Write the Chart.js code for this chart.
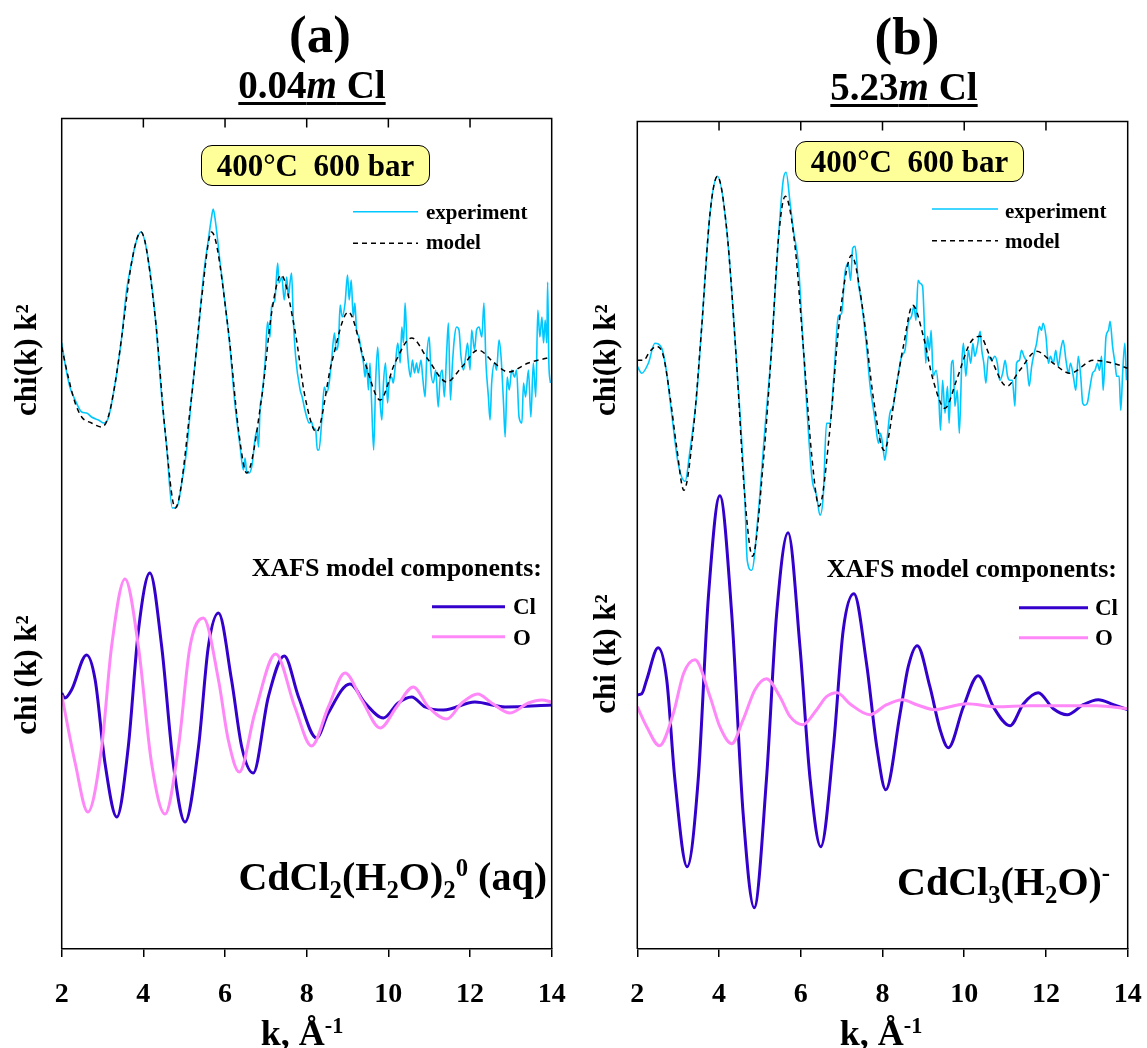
<!DOCTYPE html>
<html>
<head>
<meta charset="utf-8">
<script src="https://cdn.jsdelivr.net/npm/chart.js@4.4.1/dist/chart.umd.min.js"></script>
<style>
body { margin: 0; background: #fff; }
#wrap { position: relative; width: 1147px; height: 1048px; overflow: hidden;
        font-family: "Liberation Serif", "Times New Roman", serif; font-weight: bold; color: #000; }
canvas { position: absolute; top: 0; }
.t { position: absolute; white-space: pre; line-height: 1; }
.c { transform: translateX(-50%); }
.r { text-align: right; }
.sub { font-size: 0.62em; position: relative; top: 0.32em; line-height: 0; }
.sup { font-size: 0.62em; position: relative; top: -0.55em; line-height: 0; }
.ul { text-decoration: underline; text-decoration-thickness: 3px; text-underline-offset: 4px; }
.box { position: absolute; box-sizing: border-box; background: #ffff99; border: 1.5px solid #000;
       border-radius: 11px; display: flex; align-items: center; justify-content: center;
       font-size: 31px; white-space: pre; }
.yt { position: absolute; white-space: pre; line-height: 1; font-size: 31px;
      transform: translate(-50%, -50%) rotate(-90deg); }
</style>
</head>
<body>
<div id="wrap">
  <canvas id="chartA" width="574" height="1048" style="left:0"></canvas>
  <canvas id="chartB" width="573" height="1048" style="left:574px"></canvas>

  <div class="t c" style="left:320px;top:8px;font-size:53px">(a)</div>
  <div class="t c ul" style="left:312px;top:65px;font-size:39px">0.04<i>m</i> Cl</div>
  <div class="t c" style="left:907px;top:10px;font-size:53px">(b)</div>
  <div class="t c ul" style="left:904px;top:67px;font-size:39px">5.23<i>m</i> Cl</div>

  <div class="box" style="left:201px;top:145px;width:229px;height:41px">400°C  600 bar</div>
  <div class="box" style="left:795px;top:141px;width:229px;height:41px">400°C  600 bar</div>

  <div class="t" style="left:426px;top:202px;font-size:21px">experiment</div>
  <div class="t" style="left:426px;top:232px;font-size:21px">model</div>
  <div class="t" style="left:1005px;top:201px;font-size:21px">experiment</div>
  <div class="t" style="left:1005px;top:231px;font-size:21px">model</div>

  <div class="t r" style="right:605px;top:555px;font-size:26px">XAFS model components:</div>
  <div class="t r" style="right:30px;top:556px;font-size:26px">XAFS model components:</div>
  <div class="t" style="left:513px;top:595px;font-size:23px">Cl</div>
  <div class="t" style="left:513px;top:626px;font-size:23px">O</div>
  <div class="t" style="left:1095px;top:596px;font-size:23px">Cl</div>
  <div class="t" style="left:1095px;top:626px;font-size:23px">O</div>

  <div class="t r" style="right:600px;top:857px;font-size:40px">CdCl<span class="sub">2</span>(H<span class="sub">2</span>O)<span class="sub">2</span><span class="sup">0</span> (aq)</div>
  <div class="t" style="left:897px;top:862px;font-size:40px">CdCl<span class="sub">3</span>(H<span class="sub">2</span>O)<span class="sup">-</span></div>

  <div class="yt" style="left:25px;top:360px">chi(k) k²</div>
  <div class="yt" style="left:25px;top:675px">chi (k) k²</div>
  <div class="yt" style="left:604px;top:360px">chi(k) k²</div>
  <div class="yt" style="left:604px;top:654px">chi (k) k²</div>

  <div class="t c" style="left:302px;top:1015px;font-size:36px">k, Å<span class="sup">-1</span></div>
  <div class="t c" style="left:881px;top:1015px;font-size:36px">k, Å<span class="sup">-1</span></div>
</div>

<script>
// x axis
const kTicks = [2, 4, 6, 8, 10, 12, 14];
const kTickLabels = ['2', '4', '6', '8', '10', '12', '14'];

// (a) 0.04m Cl : top curves, chi(k)k^2 (arbitrary units)
const kExpA = [2.00,2.08,2.20,2.33,2.49,2.61,2.73,2.90,3.04,3.14,3.31,3.47,3.59,3.71,3.80,3.94,4.08,4.29,4.45,4.57,
  4.71,4.82,4.94,5.06,5.18,5.35,5.47,5.59,5.66,5.71,5.77,5.88,6.00,6.12,6.24,6.37,6.45,6.49,6.53,6.59,
  6.67,6.73,6.78,6.82,6.86,6.90,6.98,
  7.04,7.10,7.14,7.22,7.29,7.32,7.39,7.45,7.51,7.55,7.59,7.63,7.67,7.73,7.84,7.89,7.94,8.00,8.06,8.12,
  8.16,8.22,8.26,8.30,8.37,8.43,8.49,8.55,8.61,8.68,8.72,8.78,8.82,8.87,8.94,9.00,9.04,9.09,9.14,9.18,
  9.22,9.28,9.33,9.39,9.43,9.47,9.51,9.55,9.59,9.64,9.69,9.74,9.80,9.84,9.88,9.93,9.98,10.02,10.08,10.12,
  10.16,10.23,10.29,10.33,10.37,10.41,10.45,10.49,10.54,10.59,10.64,10.69,10.73,10.80,10.84,10.90,10.94,11.00,11.04,11.10,
  11.16,11.22,11.27,11.32,11.37,11.43,11.47,11.52,11.57,11.62,11.67,11.73,11.78,11.84,11.89,11.94,12.00,12.04,12.11,12.16,
  12.22,12.29,12.34,12.39,12.45,12.49,12.53,12.60,12.65,12.71,12.76,12.82,12.86,12.91,12.96,13.02,13.09,13.14,13.20,13.27,
  13.31,13.36,13.43,13.49,13.55,13.61,13.66,13.71,13.76,13.80,13.84,13.88,13.90,13.93,13.97];
const expA = [1.2,-0.8,-3.2,-4.5,-5.7,-5.8,-6.2,-6.5,-6.8,-6.3,-2.8,1.8,6.5,9.2,11.0,12.3,10.5,3.8,-4.2,-9.2,
  -15.3,-15.2,-12.8,-9.5,-4.2,2.5,7.8,11.5,13.5,14.6,13.2,9.2,5.2,0.8,-4.8,-9.2,-11.5,-10.3,-11.7,-11.8,
  -10.8,-8.5,-7.5,-9.2,-5.2,-4.2,-0.8,
  3.3,1.8,4.8,5.5,9.2,7.2,7.8,5.5,7.8,5.8,7.2,8.2,3.8,-0.2,-3.5,-4.2,-5.2,-6.2,-6.8,-6.7,
  -7.3,-7.5,-9.5,-9.5,-6.5,-3.2,-3.8,-2.8,-0.5,2.2,0.5,1.5,5.0,3.8,5.2,8.0,5.5,7.5,3.8,5.2,
  2.5,1.8,0.5,-0.8,-2.2,-0.8,-3.5,-0.8,-4.8,-9.5,-2.5,0.8,-4.8,-6.5,-2.8,-0.8,-4.8,-2.8,-2.2,-2.8,
  -1.5,1.2,-0.8,2.8,1.2,5.2,1.5,-0.8,-2.2,-0.5,-1.8,-0.8,-1.8,-0.5,-2.2,-4.2,-0.2,1.8,-1.5,-2.8,
  -1.5,-5.2,-2.2,-1.5,-4.2,0.5,3.2,-4.5,-0.8,1.8,2.8,2.5,-0.2,-1.5,-0.2,1.2,-1.5,2.5,0.5,2.5,
  2.8,1.8,5.2,-0.8,-4.2,-6.5,-2.8,-0.8,-1.5,1.5,-0.2,-4.8,-8.2,-2.2,-3.5,-1.5,-2.2,-1.5,-6.2,-6.8,
  -2.8,-4.2,-1.5,-6.2,-0.8,-4.2,4.5,1.8,3.8,1.2,3.5,1.2,7.3,-0.8,-2.8];
const kModelA = [2.00,2.16,2.33,2.49,2.73,2.98,3.14,3.31,3.47,3.71,3.94,4.29,4.53,4.78,5.18,5.43,5.67,6.08,6.33,6.53,
  6.90,7.14,7.37,7.71,7.96,8.24,8.61,9.02,9.43,9.80,10.16,10.57,10.98,11.43,11.80,12.20,12.57,12.94,13.43,14.00];
const modelA = [0.8,-2.2,-4.8,-6.2,-6.8,-7.2,-6.2,-2.8,1.8,9.2,12.3,3.8,-7.5,-15.3,-4.2,5.8,12.3,2.5,-7.5,-11.8,
  -4.2,4.2,8.0,2.5,-4.2,-7.7,-0.8,4.3,-0.8,-4.5,-0.8,1.7,-0.5,-2.7,-1.2,0.5,-0.7,-1.7,-0.8,-0.2];

// (a) model components
const kClA = [2.00,2.08,2.24,2.61,2.82,3.06,3.35,3.63,3.88,4.16,4.45,4.73,5.02,5.35,5.59,5.84,6.16,6.41,6.69,7.06,
  7.45,7.80,8.24,8.53,9.06,9.43,9.88,10.24,10.57,10.90,11.35,12.12,12.86,14.00];
const clA = [1.2,0.7,1.5,5.0,2.5,-5.8,-11.2,-4.2,7.5,13.2,5.8,-5.8,-11.7,-4.2,5.8,9.2,2.5,-4.2,-6.8,0.8,
  4.9,0.8,-3.3,-0.8,2.1,0.2,-1.3,0.2,0.8,-0.2,-0.5,0.3,-0.2,0.0];
const kOA = [2.00,2.33,2.64,2.98,3.22,3.55,3.88,4.20,4.53,4.86,5.14,5.47,5.84,6.08,6.35,6.73,7.24,7.71,8.12,8.53,
  8.94,9.35,9.80,10.20,10.61,10.98,11.43,11.80,12.19,12.53,12.98,13.43,13.76,14.00];
const oA = [1.0,-5.8,-10.7,-4.2,5.8,12.6,5.8,-5.8,-10.9,-4.2,5.8,8.7,2.5,-3.5,-6.7,-0.8,5.1,-0.2,-4.1,-0.2,
  3.2,0.5,-2.3,-0.2,1.8,-0.2,-1.4,0.2,1.1,0.2,-0.8,0.2,0.5,0.3];

// (b) 5.23m Cl : top curves
const kExpB = [2.00,2.11,2.27,2.43,2.60,2.72,2.84,3.00,3.17,3.29,3.45,3.57,3.78,3.96,4.19,4.43,4.63,4.69,4.80,4.96,
  5.12,5.29,5.45,5.57,5.64,5.74,5.82,5.94,6.06,6.27,6.39,6.47,6.55,6.63,6.71,
  6.81,6.92,7.00,7.08,7.16,7.22,7.27,7.33,7.41,7.49,7.61,7.69,7.82,7.90,7.95,8.00,8.06,8.12,8.18,8.26,
  8.35,8.47,8.55,8.63,8.71,8.77,8.82,8.87,8.92,8.98,9.03,9.06,9.10,9.15,9.19,9.24,9.31,9.37,9.42,9.47,
  9.53,9.59,9.63,9.69,9.73,9.77,9.83,9.88,9.94,9.98,10.04,10.10,10.16,10.21,10.26,10.32,10.39,10.43,10.48,10.53,
  10.59,10.67,10.75,10.81,10.87,10.94,11.00,11.06,11.12,11.18,11.24,11.28,11.35,11.40,11.46,11.53,11.59,11.65,11.71,11.77,
  11.84,11.89,11.93,12.00,12.06,12.11,12.18,12.24,12.30,12.36,12.42,12.49,12.55,12.60,12.67,12.73,12.79,12.85,12.90,12.95,
  13.01,13.08,13.14,13.20,13.26,13.31,13.36,13.40,13.47,13.53,13.57,13.63,13.69,13.73,13.79,13.83,13.88,13.93,13.97];
const expB = [-0.3,-1.0,0.0,2.0,1.5,-1.0,-5.0,-10.0,-11.8,-8.7,-3.3,3.3,15.0,18.7,13.3,0.0,-13.3,-19.7,-20.7,-15.0,
  -6.7,1.7,12.3,18.3,19.1,16.0,13.3,10.0,1.7,-11.3,-13.3,-15.2,-13.3,-6.0,-6.0,
  -1.3,4.7,5.0,9.0,10.0,8.3,11.5,11.7,8.0,6.0,1.7,-2.0,-5.7,-8.0,-7.0,-8.0,-9.7,-7.3,-5.0,-4.3,
  -2.0,0.7,1.3,4.0,4.7,5.7,4.3,8.3,8.0,7.7,3.3,0.0,2.7,1.3,3.3,-1.3,-0.7,-2.7,-6.7,-1.7,
  -5.0,-2.3,-6.0,0.0,0.3,-4.3,-2.7,-7.0,0.0,2.0,-1.3,1.3,0.0,2.0,0.7,1.7,3.2,1.3,0.0,-2.0,
  0.7,0.3,0.7,0.0,-1.7,-1.0,0.3,-1.3,-1.7,-1.7,-4.3,0.0,0.3,1.3,0.7,0.0,-2.3,-0.3,1.0,2.0,
  3.7,3.3,4.0,2.7,0.0,0.7,0.0,1.3,-0.3,1.3,2.3,0.3,-1.0,0.0,-1.3,-2.7,0.7,-1.3,-4.0,-4.2,
  -4.0,-2.3,-1.0,-0.7,0.0,-0.7,0.7,-2.7,2.7,3.3,4.2,1.7,0.0,-1.3,-1.3,-4.7,-0.7,2.0,-1.7];
const kModelB = [2.00,2.15,2.31,2.47,2.64,2.80,2.96,3.14,3.37,3.57,3.78,3.96,4.19,4.43,4.63,4.82,5.08,5.29,5.45,5.62,
  5.86,6.06,6.27,6.45,6.71,6.92,7.12,7.24,7.53,7.77,8.04,8.35,8.51,8.74,9.00,9.24,9.53,9.81,10.14,10.39,
  10.63,11.04,11.36,11.77,12.18,12.59,13.16,13.65,14.00];
const modelB = [0.3,0.3,1.2,1.7,0.7,-3.3,-8.3,-12.7,-6.7,3.3,15.0,18.7,13.3,0.0,-13.3,-19.3,-10.0,1.7,12.3,16.7,
  11.7,1.7,-9.3,-14.3,-6.7,3.3,9.3,10.8,5.0,-3.3,-8.7,-2.0,1.7,5.8,2.7,-1.7,-4.5,-1.7,2.0,2.7,
  0.7,-2.3,-0.7,1.2,0.0,-1.0,0.3,0.0,-0.5];

// (b) model components
const kClB = [2.00,2.11,2.23,2.51,2.72,2.92,3.22,3.49,3.74,4.02,4.31,4.59,4.86,5.16,5.41,5.69,5.98,6.23,6.49,6.80,
  7.04,7.30,7.61,7.86,8.08,8.43,8.63,8.85,9.16,9.41,9.61,9.98,10.34,10.71,11.12,11.45,11.81,12.18,12.52,12.91,
  13.28,13.65,14.00];
const clB = [1.2,1.3,2.7,5.9,2.7,-7.3,-16.0,-7.3,11.0,21.1,9.3,-10.7,-20.1,-7.3,9.3,17.4,6.0,-7.3,-14.0,-4.0,
  7.7,11.3,4.3,-4.0,-8.3,-0.7,4.0,6.1,2.0,-2.3,-4.1,0.0,3.1,0.0,-1.9,0.3,1.4,-0.2,-0.8,0.2,
  0.7,0.2,-0.3];
const kOB = [2.00,2.23,2.54,2.88,3.13,3.41,3.78,4.02,4.31,4.59,4.88,5.16,5.49,5.74,6.05,6.39,6.63,6.89,7.20,7.69,
  8.10,8.49,8.84,9.28,9.65,10.06,10.79,11.61,12.42,13.24,14.00];
const oB = [0.0,-2.0,-3.9,-0.7,3.3,4.7,1.0,-2.0,-3.7,-1.3,1.7,2.8,1.0,-1.0,-1.8,-0.3,1.0,1.4,0.3,-0.8,
  0.2,0.7,0.2,-0.3,0.0,0.3,0.0,0.1,0.1,0.1,-0.2];

const expColor = '#00c8ff';
const clColor = '#3300cc';
const oColor = '#ff88f8';

function pts(ks, vs) {
  return ks.map((k, i) => ({ x: k, y: vs[i] }));
}

// frame, inward top ticks and legend line samples
const framePlugin = {
  id: 'frame',
  afterDatasetsDraw(chart, args, opts) {
    const ctx = chart.ctx;
    const a = chart.chartArea;
    const x = chart.scales.x;
    ctx.save();
    ctx.strokeStyle = '#000';
    ctx.lineWidth = 1.5;
    ctx.beginPath();
    ctx.moveTo(a.left, a.bottom);
    ctx.lineTo(a.left, a.top);
    ctx.lineTo(a.right, a.top);
    ctx.lineTo(a.right, a.bottom);
    x.ticks.forEach(t => {
      const px = x.getPixelForValue(t.value);
      ctx.moveTo(px, a.top);
      ctx.lineTo(px, a.top + 9);
    });
    ctx.stroke();
    (opts.items || []).forEach(it => {
      const ds = chart.data.datasets[it.index];
      ctx.beginPath();
      ctx.strokeStyle = ds.borderColor;
      ctx.lineWidth = ds.borderWidth;
      ctx.setLineDash(ds.borderDash || []);
      ctx.moveTo(it.x1, it.y);
      ctx.lineTo(it.x2, it.y);
      ctx.stroke();
    });
    ctx.restore();
  }
};

function makeChart(id, d) {
  return new Chart(document.getElementById(id), {
    type: 'line',
    data: {
      datasets: [
        { label: 'model', data: pts(d.kModel, d.model), yAxisID: 'yTop', borderColor: '#000', borderWidth: 1.5, borderDash: [5, 4] },
        { label: 'experiment', data: pts(d.kExp, d.exp), yAxisID: 'yTop', borderColor: expColor, borderWidth: 1.6 },
        { label: 'O', data: pts(d.kO, d.o), yAxisID: 'yBot', borderColor: oColor, borderWidth: 3 },
        { label: 'Cl', data: pts(d.kCl, d.cl), yAxisID: 'yBot', borderColor: clColor, borderWidth: 3 }
      ]
    },
    options: {
      responsive: false,
      animation: false,
      devicePixelRatio: 1,
      layout: { padding: d.padding },
      elements: {
        point: { radius: 0 },
        line: { cubicInterpolationMode: 'monotone', fill: false }
      },
      plugins: {
        legend: { display: false },
        tooltip: { enabled: false },
        frame: { items: d.legend }
      },
      scales: {
        x: {
          type: 'linear', min: 2, max: 14,
          afterBuildTicks: s => { s.ticks = kTicks.map(v => ({ value: v })); },
          // keep the plot box where the reference has it
          afterFit: s => { s.paddingLeft = 0; s.paddingRight = 0; s.height = 60; },
          ticks: {
            callback: v => kTickLabels[kTicks.indexOf(v)],
            font: { family: 'Liberation Serif', size: 28, weight: 'bold' },
            color: '#000', padding: 21, maxRotation: 0, autoSkip: false
          },
          grid: { drawOnChartArea: false, drawTicks: true, tickLength: 8, color: '#000', lineWidth: 1.5 },
          border: { display: true, color: '#000', width: 1.5 }
        },
        yTop: { display: false, min: d.top[0], max: d.top[1] },
        yBot: { display: false, min: d.bot[0], max: d.bot[1] }
      }
    },
    plugins: [framePlugin]
  });
}

makeChart('chartA', {
  kExp: kExpA, exp: expA, kModel: kModelA, model: modelA,
  kCl: kClA, cl: clA, kO: kOA, o: oA,
  padding: { left: 61.7, right: 22.3, top: 118.5, bottom: 39 },
  top: [-59.4, 23.65], bot: [-24.4, 58.65],
  legend: [
    { index: 1, x1: 353, x2: 418, y: 211.7 },
    { index: 0, x1: 353, x2: 418, y: 243.3 },
    { index: 3, x1: 432, x2: 505, y: 606.7 },
    { index: 2, x1: 432, x2: 505, y: 636.7 }
  ]
});

makeChart('chartB', {
  kExp: kExpB, exp: expB, kModel: kModelB, model: modelB,
  kCl: kClB, cl: clB, kO: kOB, o: oB,
  padding: { left: 63.3, right: 19.3, top: 121.5, bottom: 39 },
  top: [-58.57, 24.18], bot: [-24.23, 58.52],
  legend: [
    { index: 1, x1: 358, x2: 424, y: 209 },
    { index: 0, x1: 358, x2: 424, y: 240.7 },
    { index: 3, x1: 445, x2: 514, y: 607.7 },
    { index: 2, x1: 445, x2: 514, y: 637.7 }
  ]
});
</script>
</body>
</html>
